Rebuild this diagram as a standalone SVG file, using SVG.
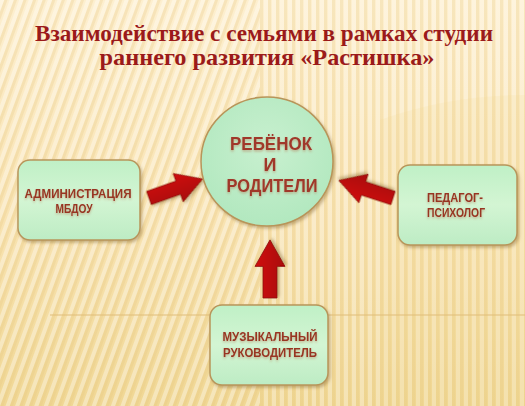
<svg xmlns="http://www.w3.org/2000/svg" width="525" height="406" viewBox="0 0 525 406">
  <defs>
    <linearGradient id="bg" x1="0" y1="0" x2="0" y2="1">
      <stop offset="0" stop-color="#fdefcf"/>
      <stop offset="0.5" stop-color="#f9e4b4"/>
      <stop offset="1" stop-color="#f0d794"/>
    </linearGradient>
    <pattern id="diag" width="9" height="9" patternUnits="userSpaceOnUse" patternTransform="rotate(20)">
      <rect width="4" height="9" fill="#ffffff" opacity="0.35"/>
      <rect x="4" width="3" height="9" fill="#e2c27a" opacity="0.25"/>
    </pattern>
    <pattern id="vert" width="8" height="8" patternUnits="userSpaceOnUse">
      <rect width="4" height="8" fill="#ffffff" opacity="0.3"/>
      <rect x="4" width="3" height="8" fill="#e2c27a" opacity="0.22"/>
    </pattern>
    <linearGradient id="boxfill" x1="0" y1="0" x2="0" y2="1">
      <stop offset="0" stop-color="#bff0c6"/>
      <stop offset="0.5" stop-color="#d3f5d3"/>
      <stop offset="1" stop-color="#bdecc4"/>
    </linearGradient>
    <radialGradient id="circfill" cx="0.5" cy="0.4" r="0.6">
      <stop offset="0" stop-color="#c8f0cf"/>
      <stop offset="1" stop-color="#b2e8bf"/>
    </radialGradient>
    <linearGradient id="arrowfill" x1="0" y1="0" x2="0" y2="1">
      <stop offset="0" stop-color="#d01010"/>
      <stop offset="1" stop-color="#a80606"/>
    </linearGradient>
    <filter id="shadow" x="-20%" y="-20%" width="140%" height="140%">
      <feDropShadow dx="1.5" dy="2" stdDeviation="1.8" flood-color="#8a6a30" flood-opacity="0.45"/>
    </filter>
    <filter id="tshadow" x="-10%" y="-30%" width="120%" height="170%">
      <feDropShadow dx="0" dy="1.5" stdDeviation="0.8" flood-color="#b06040" flood-opacity="0.45"/>
    </filter>
    <polygon id="arr" points="0,-7 31,-7 31,-15 57,0 31,15 31,7 0,7"/>
  </defs>
  <style>
    .title { font-family: "Liberation Serif", "DejaVu Serif", serif; font-weight: bold; font-size: 23px; fill: #9b1a1a; text-anchor: middle; }
    .box { fill: url(#boxfill); stroke: #b8955a; stroke-width: 1.5; filter: url(#shadow); }
    .lbl { font-family: "Liberation Sans", "DejaVu Sans", sans-serif; font-weight: bold; font-size: 12px; fill: #983624; text-anchor: middle; filter: url(#tshadow); }
    .clbl { font-family: "Liberation Sans", "DejaVu Sans", sans-serif; font-weight: bold; font-size: 18px; fill: #a0392a; text-anchor: middle; filter: url(#tshadow); }
    .arrow { fill: url(#arrowfill); stroke: #8e0a0a; stroke-width: 0.8; filter: url(#shadow); }
  </style>

  <!-- background -->
  <rect width="525" height="406" fill="url(#bg)"/>
  <rect x="0" y="0" width="260" height="406" fill="url(#diag)"/>
  <rect x="260" y="0" width="265" height="406" fill="url(#vert)"/>
  <path d="M380,120 Q450,95 525,95 L525,406 L380,406 Z" fill="#f0d48e" opacity="0.15"/>
  <line x1="50" y1="315" x2="525" y2="315" stroke="#e0bd78" stroke-width="1"/>

  <!-- title -->
  <text class="title" x="264" y="41" textLength="458" lengthAdjust="spacingAndGlyphs">Взаимодействие с семьями в рамках студии</text>
  <text class="title" x="267" y="65" textLength="335" lengthAdjust="spacingAndGlyphs">раннего развития «Растишка»</text>

  <!-- connectors -->
  <g id="connectors">
    <use href="#arr" class="arrow" transform="translate(149,198) rotate(-19.5)"/>
    <use href="#arr" class="arrow" transform="translate(393,198) rotate(-162)"/>
    <use href="#arr" class="arrow" transform="translate(270,298) rotate(-90) scale(1.02,1)"/>
  </g>

  <!-- center node -->
  <g id="node-center">
    <ellipse cx="267" cy="161.5" rx="66" ry="64.5" fill="url(#circfill)" stroke="#b8955a" stroke-width="1.5" filter="url(#shadow)"/>
    <text class="clbl" x="271" y="150" textLength="82" lengthAdjust="spacingAndGlyphs">РЕБЁНОК</text>
    <text class="clbl" x="270" y="171">И</text>
    <text class="clbl" x="272" y="192" textLength="91" lengthAdjust="spacingAndGlyphs">РОДИТЕЛИ</text>
  </g>

  <!-- left node -->
  <g id="node-admin">
    <rect class="box" x="18" y="160" width="122" height="80" rx="12"/>
    <text class="lbl" x="78" y="198" textLength="107" lengthAdjust="spacingAndGlyphs">АДМИНИСТРАЦИЯ</text>
    <text class="lbl" x="74" y="213" textLength="37" lengthAdjust="spacingAndGlyphs">МБДОУ</text>
  </g>

  <!-- right node -->
  <g id="node-psych">
    <rect class="box" x="398" y="165" width="119" height="80" rx="12"/>
    <text class="lbl" x="455" y="202" textLength="56" lengthAdjust="spacingAndGlyphs">ПЕДАГОГ-</text>
    <text class="lbl" x="456" y="217" textLength="58" lengthAdjust="spacingAndGlyphs">ПСИХОЛОГ</text>
  </g>

  <!-- bottom node -->
  <g id="node-music">
    <rect class="box" x="210" y="305" width="118" height="80" rx="12"/>
    <text class="lbl" x="270" y="341" textLength="95" lengthAdjust="spacingAndGlyphs">МУЗЫКАЛЬНЫЙ</text>
    <text class="lbl" x="270" y="357" textLength="94" lengthAdjust="spacingAndGlyphs">РУКОВОДИТЕЛЬ</text>
  </g>
</svg>
